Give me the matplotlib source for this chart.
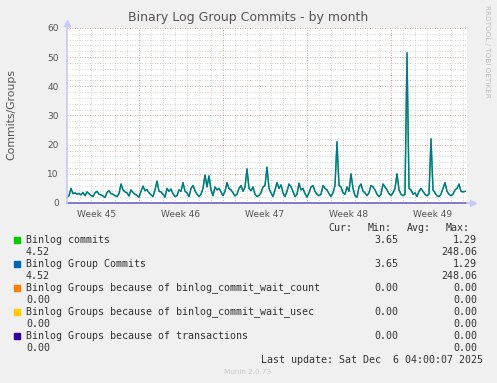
import numpy as np
import matplotlib
matplotlib.use("Agg")
from matplotlib import pyplot as plt

# values every 4 hours (6 per day)
commits = [
    2.0, 2.5, 5.0, 3.2, 3.5, 3.0,
    3.3, 2.8, 3.6, 2.5, 3.8, 3.2,
    2.6, 2.2, 3.5, 4.0, 3.0, 2.8,
    2.4, 1.9, 3.6, 4.2, 3.2, 3.0,
    2.5, 2.2, 3.2, 6.5, 4.5, 3.8,
    3.5, 2.4, 4.5, 3.6, 3.0, 2.6,
    2.0, 4.0, 5.8, 4.2, 4.6, 3.5,
    2.8, 2.2, 4.5, 7.5, 4.0, 3.8,
    3.0, 2.0, 5.0, 4.0, 4.8, 3.2,
    2.2, 2.5, 4.5, 4.0, 7.0, 4.0,
    3.5, 2.2, 5.0, 6.0, 4.2, 3.0,
    2.2, 3.0, 5.0, 9.6, 5.5, 9.3,
    4.5, 2.5, 5.5, 4.5, 5.0, 3.8,
    2.5, 4.0, 7.0, 5.0, 4.5, 3.5,
    2.4, 3.0, 5.0, 6.0, 4.0, 5.5,
    11.7, 5.0, 4.2, 5.5, 3.0, 2.2,
    2.6, 3.5, 5.5, 6.0, 12.3, 5.0,
    3.5, 2.2, 4.5, 7.0, 5.0, 6.2,
    3.5, 2.2, 4.0, 6.5, 5.5, 4.0,
    2.2, 3.0, 6.8, 4.5, 5.0, 3.2,
    2.0, 3.5, 5.5, 6.0, 4.0, 3.0,
    2.5, 3.0, 6.0, 5.0, 4.5, 3.2,
    2.2, 3.5, 6.0, 21.0, 6.0, 5.5,
    3.5, 3.0, 5.5, 4.0, 10.0, 5.0,
    2.5, 2.0, 5.5, 6.5, 4.0, 3.5,
    2.5, 3.5, 6.0, 5.5, 4.5, 3.0,
    2.2, 3.0, 6.5, 5.5, 4.5, 3.2,
    2.5, 3.5, 5.0, 10.0, 4.5, 3.0,
    2.5, 3.0, 51.5, 5.0, 4.5, 3.0,
    3.5, 2.2, 4.0, 5.0, 4.0, 3.0,
    2.5, 3.0, 22.0, 4.5, 3.5, 2.5,
    2.2, 3.0, 5.0, 7.0, 4.0, 3.0,
    2.5, 3.0, 4.5, 5.0, 6.5, 4.0,
    3.8, 4.0,
]
group_commits = list(commits)
zero_series = [0.0] * len(commits)

week_labels = ["Week 45", "Week 46", "Week 47", "Week 48", "Week 49"]
week_label_days = [2.5, 9.5, 16.5, 23.5, 30.5]
week_start_days = [6, 13, 20, 27]

legend_names = [
    "Binlog commits",
    "Binlog Group Commits",
    "Binlog Groups because of binlog_commit_wait_count",
    "Binlog Groups because of binlog_commit_wait_usec",
    "Binlog Groups because of transactions",
]
legend_colors = ["#00CC00", "#0066B3", "#FF8000", "#FFCC00", "#330099"]
legend_min = ["3.65", "3.65", "0.00", "0.00", "0.00"]
legend_max = ["1.29", "1.29", "0.00", "0.00", "0.00"]
legend_cur = ["4.52", "4.52", "0.00", "0.00", "0.00"]
legend_max2 = ["248.06", "248.06", "0.00", "0.00", "0.00"]

W, H = 497, 383
fig = plt.figure(figsize=(W / 100, H / 100), dpi=100)
fig.patch.set_facecolor("#F0F0F0")


def fx(px):
    return px / W


def fy(py):
    return 1 - py / H


ax = fig.add_axes([fx(67), fy(203), fx(400), 175 / H])
ax.set_facecolor("white")

days = np.arange(len(commits)) / 6.0
ax.plot(days, commits, color="#00CC00", lw=1.0, zorder=3)
ax.plot(days, group_commits, color="#0066B3", lw=1.0, alpha=0.85, zorder=4)
ax.plot(days, zero_series, color="#FF8000", lw=1.0, zorder=2)
ax.plot(days, zero_series, color="#FFCC00", lw=1.0, zorder=2)
ax.plot([0, 400 / 12], [0, 0], color="#7068c4", lw=1.2, zorder=6, clip_on=False)

ax.set_xlim(0, 400 / 12)
ax.set_ylim(0, 60)

# grid
for d in range(1, 34):
    if d in week_start_days:
        continue
    ax.axvline(d, color="#c8c8c8", lw=0.6, ls=(0, (1, 2)), zorder=1)
for d in week_start_days:
    ax.axvline(d, color="#e08080", lw=0.6, ls=(0, (1, 2)), zorder=1.5)
for v in range(2, 61, 2):
    if v % 10 == 0:
        ax.axhline(v, color="#e08080", lw=0.6, ls=(0, (1, 2)), zorder=1.5)
    else:
        ax.axhline(v, color="#c8c8c8", lw=0.6, ls=(0, (1, 2)), zorder=1)

for s in ax.spines.values():
    s.set_visible(False)
ax.set_yticks(range(0, 61, 10))
ax.set_xticks(week_label_days)
ax.set_xticklabels(week_labels)
ax.tick_params(axis="both", length=0, labelsize=6.5, labelcolor="#555555")
ax.tick_params(axis="y", pad=6)
ax.tick_params(axis="x", pad=5)

# axis lines with arrows
ax.plot([0, 0], [0, 1.02], color="#c8c8ff", lw=1.2, transform=ax.transAxes, clip_on=False, zorder=7)
ax.plot([0], [1.03], marker="^", color="#c8c8ff", ms=4, transform=ax.transAxes, clip_on=False, zorder=7)
ax.plot([1.0, 1.012], [0, 0], color="#c8c8ff", lw=1.2, transform=ax.transAxes, clip_on=False, zorder=7)
ax.plot([1.015], [0], marker=">", color="#c8c8ff", ms=4, transform=ax.transAxes, clip_on=False, zorder=7)

fig.text(fx(248), fy(18), "Binary Log Group Commits - by month", ha="center", va="center",
         fontsize=9, color="#555555")
fig.text(fx(11), fy(115), "Commits/Groups", rotation=90, ha="center", va="center",
         fontsize=7.8, color="#555555")
fig.text(fx(487), fy(5), "RRDTOOL / TOBI OETIKER", rotation=270, ha="center", va="top",
         fontsize=5.2, color="#c0c0c0")

mono = dict(family="DejaVu Sans Mono", fontsize=7.2, color="#333333", va="center")
for lbl, xr in zip(["Cur:", "Min:", "Avg:", "Max:"], [352, 392, 431, 470]):
    fig.text(fx(xr), fy(228), lbl, ha="right", **mono)

for i, name in enumerate(legend_names):
    y1 = 240 + 24 * i
    y2 = y1 + 12
    fig.patches.append(plt.Rectangle((fx(14), fy(y1 + 3)), fx(6), 6 / H, color=legend_colors[i],
                                     transform=fig.transFigure, figure=fig))
    fig.text(fx(26), fy(y1), name, ha="left", **mono)
    fig.text(fx(398), fy(y1), legend_min[i], ha="right", **mono)
    fig.text(fx(477), fy(y1), legend_max[i], ha="right", **mono)
    fig.text(fx(26), fy(y2), legend_cur[i], ha="left", **mono)
    fig.text(fx(477), fy(y2), legend_max2[i], ha="right", **mono)

fig.text(fx(483), fy(360), "Last update: Sat Dec  6 04:00:07 2025", ha="right", **mono)
fig.text(fx(248), fy(372), "Munin 2.0.73", ha="center", va="center", fontsize=5.2, color="#c8c8c8")

fig.savefig("out.png", dpi=100, facecolor=fig.get_facecolor())
